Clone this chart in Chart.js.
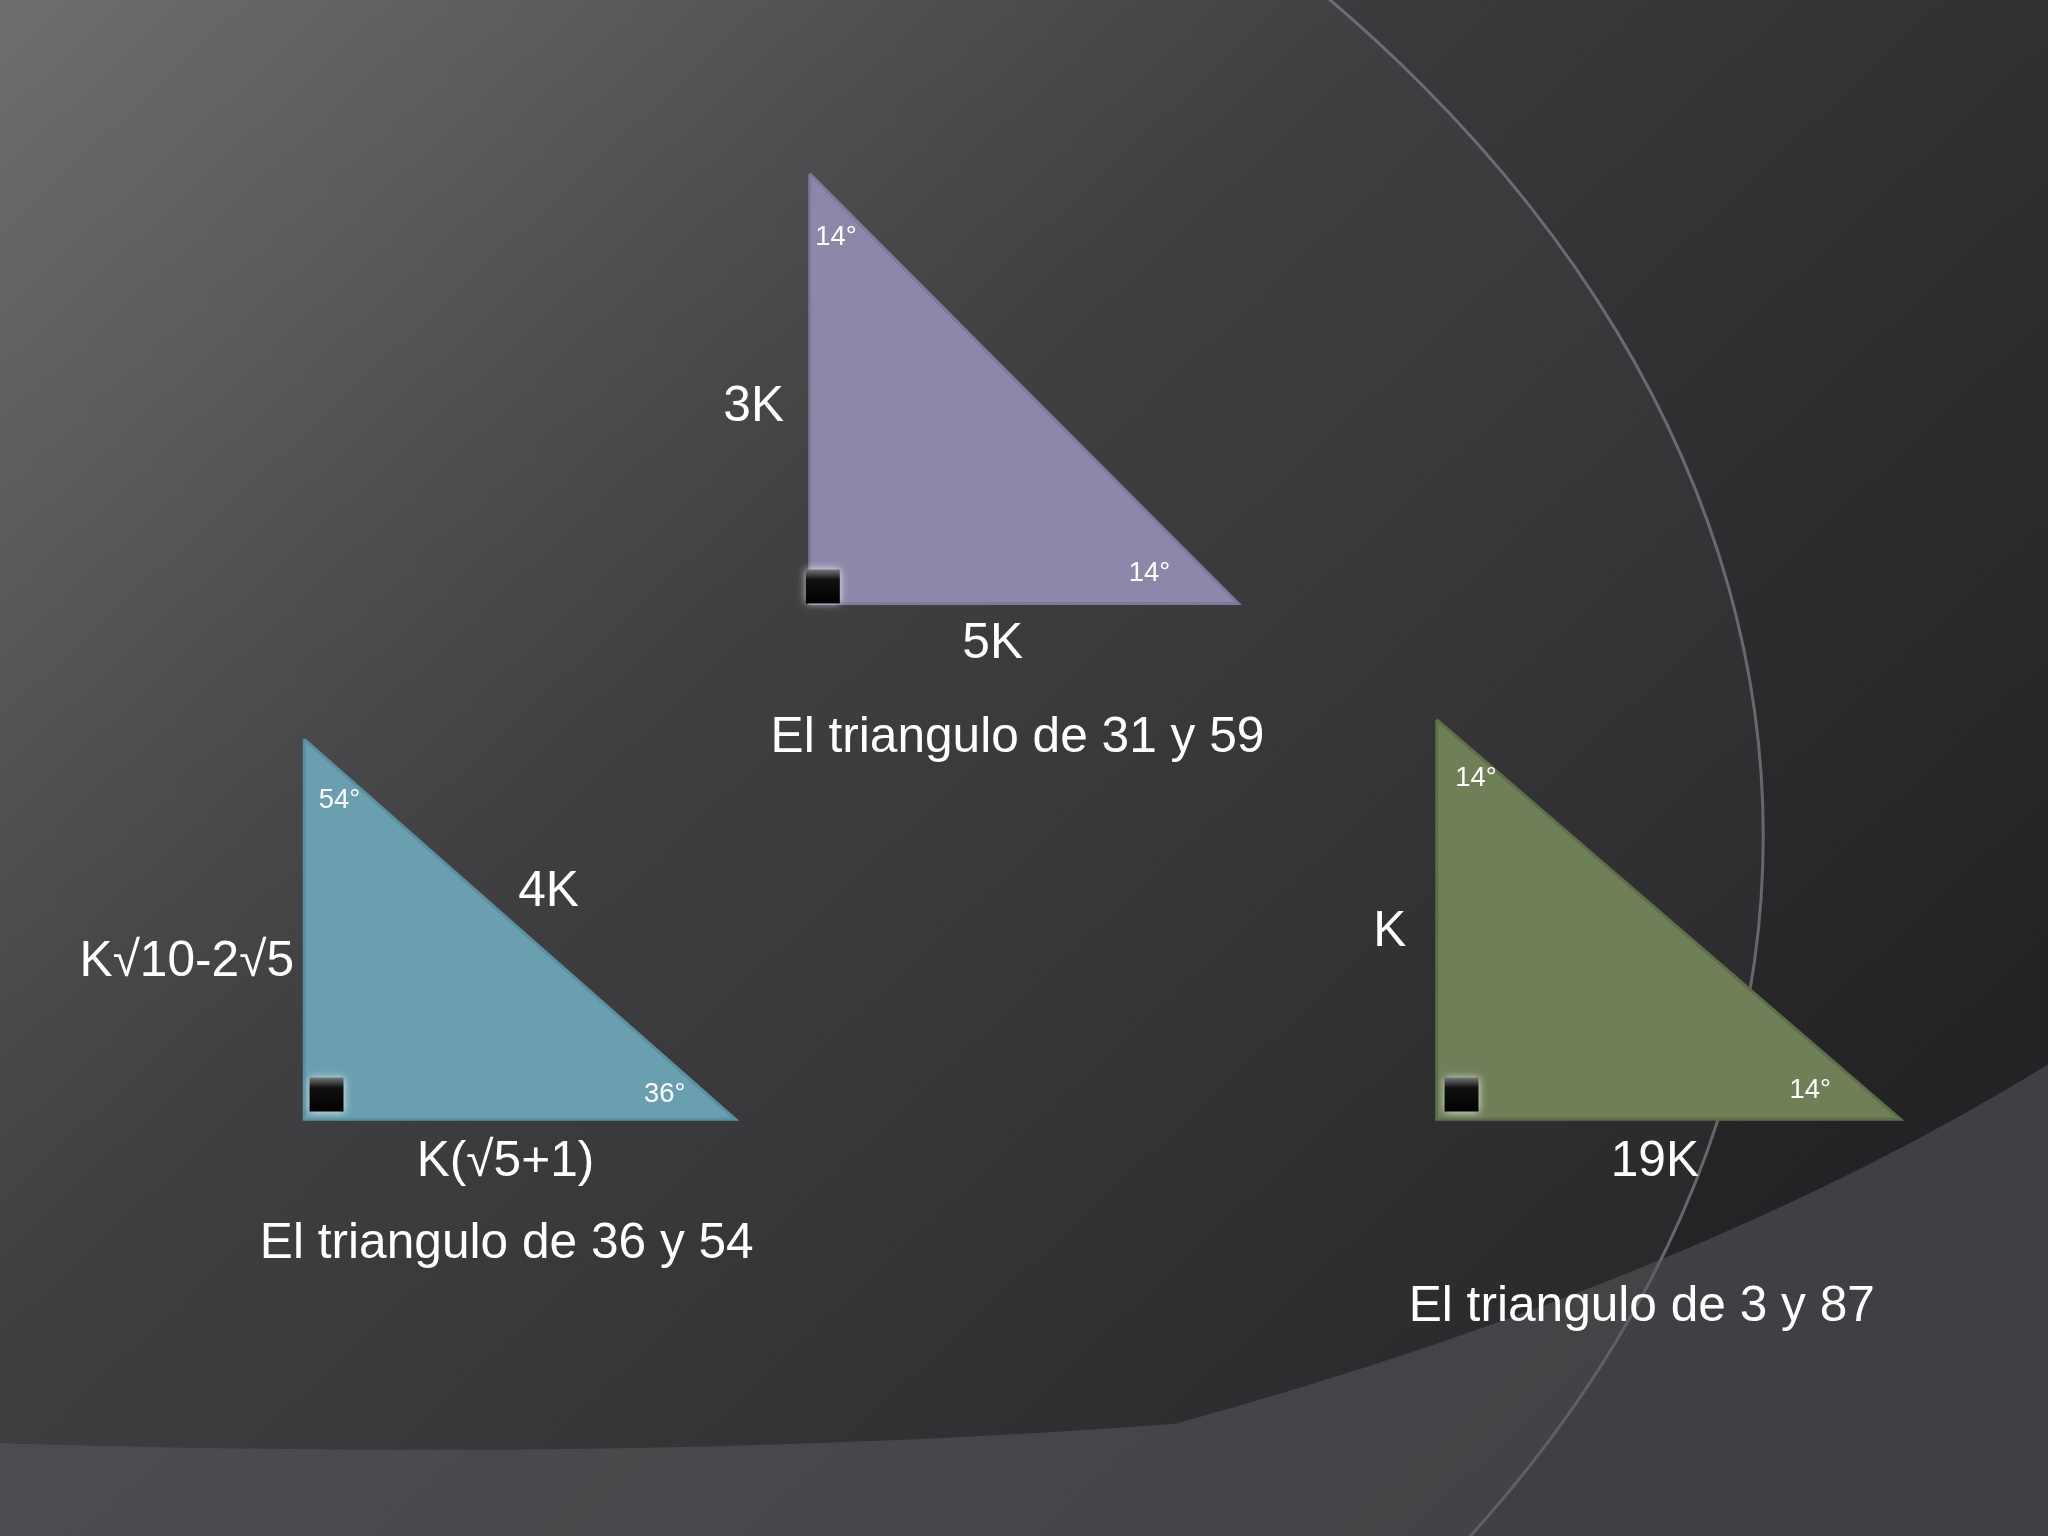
<!DOCTYPE html>
<html>
<head>
<meta charset="utf-8">
<script src="https://cdn.jsdelivr.net/npm/chart.js@4/dist/chart.umd.min.js"></script>
<style>
  html, body { margin: 0; padding: 0; background: #2b2b2d; }
  #wrap { width: 2048px; height: 1536px; position: relative; }
</style>
</head>
<body>
<div id="wrap"><canvas id="slide"></canvas></div>
<script>
// Datos: vértices de cada triángulo (x, y en unidades de diapositiva)
const trianguloMorado = [[620, 133], [620, 462], [948, 462], [620, 133]];
const trianguloAzul   = [[233, 566], [233, 857], [563, 857], [233, 566]];
const trianguloVerde  = [[1100, 551], [1100, 857], [1455, 857], [1100, 551]];
const angulosRectos   = [[630, 449], [250, 838], [1119, 838]];
const rellenos        = ['#8b88a9', '#6a9faf', '#6f7f58'];

// Textos: [texto, x, y, tamaño]
const etiquetas = [
  ['3K', 577, 312, 'big'], ['5K', 760, 493, 'big'], ['14°', 640, 182, 'small'], ['14°', 880, 439, 'small'],
  ['El triangulo de 31 y 59', 779, 565, 'big'],
  ['4K', 420, 683, 'big'], ['K√10-2√5', 143, 737, 'big'], ['K(√5+1)', 387, 890, 'big'],
  ['54°', 260, 613, 'small'], ['36°', 509, 838, 'small'],
  ['El triangulo de 36 y 54', 388, 953, 'big'],
  ['K', 1064, 714, 'big'], ['19K', 1267, 890, 'big'], ['14°', 1130, 596, 'small'], ['14°', 1386, 835, 'small'],
  ['El triangulo de 3 y 87', 1257, 1001, 'big']
];

const toPts = arr => arr.map(p => ({ x: p[0], y: p[1] }));

// fondo con arcos decorativos
const fondo = {
  id: 'fondo',
  beforeDraw(chart) {
    const { ctx, width: w, height: h } = chart;
    const s = w / 1568;
    const g = ctx.createLinearGradient(0, 0, w * 0.7, h);
    g.addColorStop(0, '#6a6a6c');
    g.addColorStop(0.45, '#3a3a3c');
    g.addColorStop(1, '#232325');
    ctx.save();
    ctx.fillStyle = g;
    ctx.fillRect(0, 0, w, h);
    ctx.beginPath();
    ctx.ellipse(-250 * s, 640 * s, 1600 * s, 1050 * s, 0, 0, Math.PI * 2);
    ctx.fillStyle = 'rgba(255,255,255,0.03)';
    ctx.fill();
    ctx.strokeStyle = 'rgba(130,130,135,0.7)';
    ctx.lineWidth = 3;
    ctx.stroke();
    ctx.beginPath();
    ctx.moveTo(0, 1105 * s);
    ctx.quadraticCurveTo(500 * s, 1120 * s, 900 * s, 1090 * s);
    ctx.quadraticCurveTo(1300 * s, 980 * s, 1568 * s, 815 * s);
    ctx.lineTo(1568 * s, 1176 * s);
    ctx.lineTo(0, 1176 * s);
    ctx.closePath();
    ctx.fillStyle = 'rgba(90,90,95,0.55)';
    ctx.fill();
    ctx.restore();
  }
};

// relleno de los triángulos a partir de los puntos que calcula la librería
const relleno = {
  id: 'relleno',
  beforeDatasetsDraw(chart) {
    const ctx = chart.ctx;
    ctx.save();
    chart.data.datasets.forEach((ds, i) => {
      const pts = chart.getDatasetMeta(i).data;
      ctx.beginPath();
      pts.forEach((p, k) => k ? ctx.lineTo(p.x, p.y) : ctx.moveTo(p.x, p.y));
      ctx.closePath();
      ctx.fillStyle = rellenos[i];
      ctx.fill();
    });
    ctx.restore();
  }
};

// textos y cuadritos de ángulo recto
const rotulos = {
  id: 'rotulos',
  afterDatasetsDraw(chart) {
    const { ctx, scales: { x, y } } = chart;
    const s = chart.width / 1568;
    ctx.save();
    angulosRectos.forEach(p => {
      const cx = x.getPixelForValue(p[0]), cy = y.getPixelForValue(p[1]);
      const a = 26 * s;
      ctx.shadowColor = 'rgba(255,255,255,0.8)';
      ctx.shadowBlur = 8;
      const g = ctx.createLinearGradient(0, cy - a / 2, 0, cy + a / 2);
      g.addColorStop(0, '#777'); g.addColorStop(0.3, '#111'); g.addColorStop(1, '#000');
      ctx.fillStyle = g;
      ctx.fillRect(cx - a / 2, cy - a / 2, a, a);
    });
    ctx.shadowBlur = 0;
    ctx.fillStyle = '#ffffff';
    ctx.textAlign = 'center';
    ctx.textBaseline = 'middle';
    etiquetas.forEach(e => {
      ctx.font = (e[3] === 'big' ? 38 * s : 21 * s) + 'px "Liberation Sans", Arial, sans-serif';
      ctx.fillText(e[0], x.getPixelForValue(e[1]), y.getPixelForValue(e[2]));
    });
    ctx.restore();
  }
};

function tri(data, line) {
  return { data: toPts(data), showLine: true, fill: false,
           borderColor: line, borderWidth: 3, pointRadius: 0, tension: 0 };
}

new Chart(document.getElementById('slide'), {
  type: 'scatter',
  data: {
    datasets: [
      tri(trianguloMorado, '#7d7a9c'),
      tri(trianguloAzul, '#5b90a3'),
      tri(trianguloVerde, '#5f6f4a')
    ]
  },
  options: {
    responsive: true,
    maintainAspectRatio: false,
    animation: false,
    layout: { padding: 0 },
    plugins: { legend: { display: false }, tooltip: { enabled: false } },
    scales: {
      x: { type: 'linear', min: 0, max: 1568, display: false },
      y: { type: 'linear', min: 0, max: 1176, reverse: true, display: false }
    }
  },
  plugins: [fondo, relleno, rotulos]
});
</script>
</body>
</html>
